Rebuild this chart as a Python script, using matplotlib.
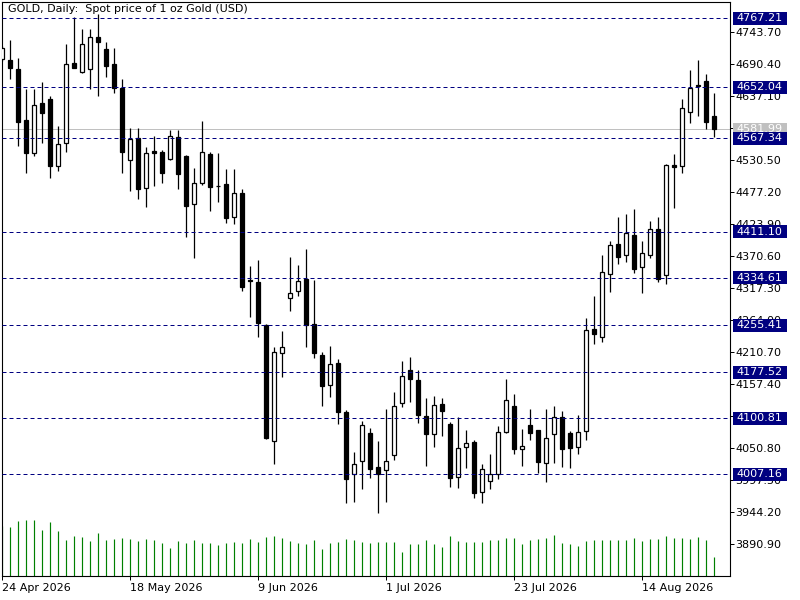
import matplotlib
matplotlib.use("Agg")
import matplotlib.pyplot as plt
from matplotlib.patches import Rectangle
from matplotlib.transforms import blended_transform_factory
import pandas as pd

# daily gold candles, 24 Apr 2026 .. 27 Aug 2026 (weekdays)
dates = pd.bdate_range("2026-04-24", periods=90)

opens = [4698.9, 4697.7, 4682.7, 4597.7, 4543.2, 4625.5, 4632.7, 4521.5, 4558.9, 4692.2,
         4678.2, 4682.2, 4735.5, 4715.5, 4690.5, 4651.5, 4531.0, 4567.2, 4483.9, 4546.0,
         4544.9, 4532.2, 4569.9, 4538.2, 4457.2, 4493.2, 4541.0, 4488.2, 4490.5, 4435.5,
         4475.5, 4330.5, 4327.7, 4256.0, 4062.7, 4208.8, 4300.5, 4312.7, 4332.7, 4257.7,
         4206.0, 4155.5, 4193.2, 4111.5, 4007.2, 4029.3, 4075.5, 4018.8, 4014.3, 4038.8,
         4126.0, 4180.5, 4163.8, 4103.8, 4073.8, 4123.8, 4091.0, 4002.2, 4052.2, 4060.5,
         3977.1, 3996.0, 4007.2, 4078.2, 4121.0, 4048.8, 4088.8, 4080.5, 4025.5, 4073.8,
         4102.2, 4075.5, 4052.2, 4079.3, 4248.8, 4236.5, 4340.5, 4390.5, 4372.2, 4406.0,
         4352.2, 4372.2, 4416.0, 4338.8, 4522.2, 4521.0, 4610.5, 4656.5, 4662.7, 4603.9]
highs = [4721.0, 4731.0, 4700.5, 4648.9, 4648.9, 4661.5, 4637.7, 4587.7, 4724.4, 4769.4,
         4748.9, 4748.9, 4774.4, 4728.2, 4717.2, 4666.0, 4584.9, 4583.9, 4553.2, 4571.0,
         4547.7, 4581.0, 4581.0, 4539.4, 4517.2, 4596.5, 4544.9, 4542.2, 4515.5, 4515.5,
         4482.2, 4354.3, 4364.3, 4257.7, 4219.8, 4246.0, 4369.8, 4356.0, 4382.7, 4331.0,
         4210.5, 4221.5, 4198.8, 4114.3, 4043.8, 4096.0, 4083.8, 4062.7, 4115.5, 4143.8,
         4196.0, 4202.2, 4181.0, 4133.8, 4137.7, 4133.8, 4094.8, 4102.2, 4081.0, 4064.3,
         4024.3, 4041.0, 4087.7, 4166.0, 4141.0, 4082.7, 4116.0, 4081.0, 4115.5, 4121.0,
         4112.7, 4079.3, 4105.5, 4268.2, 4304.3, 4372.7, 4396.0, 4435.5, 4441.0, 4448.9,
         4396.5, 4429.4, 4435.5, 4524.4, 4541.0, 4632.7, 4681.0, 4697.7, 4674.4, 4642.2]
lows = [4696.0, 4666.0, 4554.9, 4509.9, 4537.7, 4559.9, 4500.5, 4513.2, 4544.9, 4683.9,
        4676.5, 4648.9, 4638.2, 4668.9, 4643.2, 4509.9, 4479.9, 4465.5, 4453.2, 4487.7,
        4492.2, 4531.0, 4482.2, 4402.2, 4367.2, 4489.4, 4446.5, 4461.5, 4425.5, 4423.9,
        4313.2, 4268.8, 4235.5, 4066.5, 4023.8, 4169.8, 4279.8, 4304.8, 4218.8, 4200.5,
        4121.5, 4135.5, 4090.5, 3958.8, 3961.5, 3982.2, 4000.5, 3942.2, 3960.5, 4031.0,
        4119.8, 4128.2, 4092.2, 4021.5, 4053.2, 4071.5, 3985.5, 3983.8, 4017.2, 3968.1,
        3958.8, 3982.2, 3999.3, 4076.5, 4040.5, 4021.5, 4064.3, 4009.8, 3994.8, 4026.5,
        4019.8, 4018.2, 4041.0, 4064.3, 4223.8, 4228.2, 4311.5, 4357.2, 4361.5, 4343.2,
        4309.8, 4367.2, 4328.2, 4323.8, 4450.5, 4508.9, 4593.2, 4604.9, 4582.2, 4568.9]
closes = [4717.2, 4683.9, 4594.9, 4543.2, 4622.7, 4609.9, 4521.5, 4557.2, 4691.0, 4684.9,
          4724.4, 4735.5, 4728.2, 4688.2, 4650.5, 4544.9, 4565.5, 4482.2, 4542.2, 4542.2,
          4508.9, 4571.0, 4507.7, 4454.9, 4493.2, 4544.9, 4485.5, 4487.2, 4433.9, 4475.5,
          4318.8, 4328.8, 4259.8, 4068.2, 4211.5, 4218.8, 4308.8, 4329.3, 4255.5, 4208.8,
          4154.8, 4191.0, 4110.5, 3998.8, 4023.8, 4088.8, 4015.5, 4007.7, 4028.8, 4120.5,
          4170.5, 4165.5, 4105.5, 4073.8, 4122.2, 4112.2, 4000.5, 4050.5, 4058.8, 3975.5,
          4015.5, 4007.2, 4077.2, 4130.5, 4048.8, 4054.3, 4075.5, 4028.2, 4067.2, 4102.2,
          4049.8, 4051.5, 4077.7, 4247.7, 4240.5, 4343.8, 4388.8, 4368.8, 4409.9, 4349.8,
          4375.5, 4415.5, 4333.2, 4523.2, 4519.9, 4617.2, 4650.5, 4654.9, 4593.9, 4581.99]
tick_volume = [50, 49, 55, 56, 56, 46, 54, 45, 36, 40,
               39, 35, 43, 36, 37, 38, 37, 35, 37, 36,
               33, 28, 35, 33, 36, 33, 33, 31, 33, 34,
               33, 37, 34, 39, 40, 38, 35, 33, 32, 36,
               27, 33, 34, 37, 36, 34, 33, 34, 34, 34,
               24, 32, 32, 36, 32, 29, 40, 35, 34, 34,
               34, 36, 36, 38, 38, 32, 36, 37, 38, 41,
               33, 32, 30, 35, 36, 36, 36, 36, 36, 38,
               35, 37, 37, 40, 38, 38, 37, 39, 36, 19]

levels = [4767.21, 4652.04, 4567.34, 4411.10, 4334.61, 4255.41, 4177.52, 4100.81, 4007.16]
last_price = 4581.99
price_ticks = [3890.90, 3944.20, 3997.50, 4050.80, 4104.10, 4157.40, 4210.70, 4264.00,
               4317.30, 4370.60, 4423.90, 4477.20, 4530.50, 4583.80, 4637.10, 4690.40, 4743.70]
date_ticks = ["2026-04-24", "2026-05-18", "2026-06-09", "2026-07-01", "2026-07-23", "2026-08-14"]

NAVY = "#000080"
PX = 0.72  # one pixel in points

fig = plt.figure(figsize=(8, 6), dpi=100)
ax = fig.add_axes([2 / 800, 24 / 600, 728 / 800, 574 / 600])
vax = ax.twinx()
ax.set_zorder(vax.get_zorder() + 1)
ax.patch.set_visible(False)

x = range(len(dates))
ymin, ymax = 3837.6, 4794.4
ax.set_xlim(-0.04, 90.96)
ax.set_ylim(ymin, ymax)
per_px = (ymax - ymin) / 574

# volumes in the bottom of the main window
vax.vlines(x, 0, tick_volume, color="#008000", lw=0.85)
vax.set_ylim(0, 574)
vax.set_yticks([])
for s in vax.spines.values():
    s.set_visible(False)

ax.axhline(last_price, color="#C0C0C0", lw=PX, zorder=1)

for i in x:
    o, h, l, c = opens[i], highs[i], lows[i], closes[i]
    ax.vlines(i, l, h, color="black", lw=0.9, zorder=2)
    bottom = min(o, c)
    height = max(abs(c - o), per_px * 0.3)
    face = "white" if c > o else "black"
    ax.add_patch(Rectangle((i - 0.25, bottom), 0.5, height, facecolor=face,
                           edgecolor="black", lw=0.9, zorder=3))

for lv in levels:
    ax.axhline(lv, color=NAVY, lw=PX, dashes=(4, 3), zorder=4)

# price scale on the right
ax.yaxis.tick_right()
ax.set_yticks(price_ticks, [f"{t:.2f}" for t in price_ticks])
ax.tick_params(axis="y", length=3.2, width=PX, pad=0.8, labelsize=8, direction="out")

tick_pos = [list(dates).index(pd.Timestamp(d)) for d in date_ticks]
tick_lab = [f"{pd.Timestamp(d).day} {pd.Timestamp(d):%b %Y}" for d in date_ticks]
ax.set_xticks(tick_pos, tick_lab)
for lab in ax.get_xticklabels():
    lab.set_ha("left")
ax.tick_params(axis="x", length=3.2, width=PX, pad=1.5, labelsize=8, direction="out")

for s in ax.spines.values():
    s.set_linewidth(0.8)

# value labels on the price scale
trans = blended_transform_factory(ax.transAxes, ax.transData)
box_h = 13 * per_px
tags = [(last_price, "#C0C0C0")] + [(lv, NAVY) for lv in levels]
for val, col in tags:
    ax.add_patch(Rectangle((1 + 3 / 728, val - box_h / 2), 54 / 728, box_h, transform=trans,
                           facecolor=col, edgecolor="none", clip_on=False, zorder=5))
    ax.text(1 + 6 / 728, val, f"{val:.2f}", transform=trans, color="white", fontsize=8,
            va="center", ha="left", clip_on=False, zorder=6)

ax.text(6 / 728, 1 - 2 / 574, "GOLD, Daily:  Spot price of 1 oz Gold (USD)",
        transform=ax.transAxes, fontsize=8, va="top", ha="left", zorder=6)

fig.savefig("out.png", dpi=100, facecolor="white")
